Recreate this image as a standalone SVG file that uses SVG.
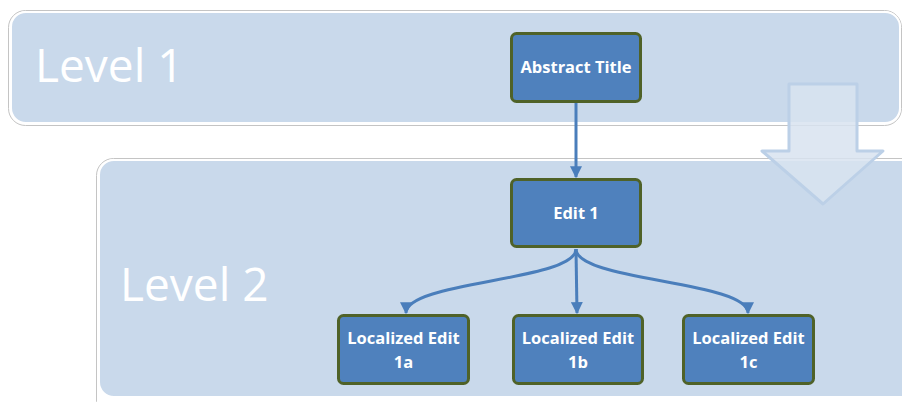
<svg xmlns="http://www.w3.org/2000/svg" width="902" height="402" viewBox="0 0 902 402">
<defs>
<style>
.band-out{fill:none;stroke:#c4c4c4;stroke-width:1}
.band{fill:#c9d9eb;stroke:#ffffff;stroke-width:2}
.lvl{font-family:"Open Sans","Liberation Sans",sans-serif;font-weight:normal;font-size:46px;fill:#ffffff}
.box{fill:#4f81bd;stroke:#4f6228;stroke-width:3}
.lbl{font-family:"Open Sans","Liberation Sans",sans-serif;font-weight:bold;font-size:16.5px;fill:#ffffff;text-anchor:middle}
.conn{fill:none;stroke:#4a7ebb;stroke-width:3}
</style>
<marker id="ah" viewBox="0 0 10 10" refX="9" refY="5" markerWidth="4" markerHeight="4" markerUnits="strokeWidth" orient="auto">
<path d="M0,0 L10,5 L0,10 z" fill="#4a7ebb"/>
</marker>
</defs>
<rect width="902" height="402" fill="#ffffff"/>
<g id="level1">
<rect class="band-out" x="8.5" y="10.5" width="893" height="115" rx="17"/>
<rect class="band" x="11" y="12" width="889" height="111" rx="15"/>
<text class="lvl" x="35" y="82">Level 1</text>
</g>
<g id="level2">
<rect class="band-out" x="96.5" y="158.5" width="830" height="260" rx="17"/>
<rect class="band" x="99" y="160" width="830" height="237" rx="15"/>
<text class="lvl" x="120" y="301">Level 2</text>
</g>
<g id="big-arrow">
<path d="M789,84 L857,84 L857,151 L883,151 L823,204 L762,151 L789,151 Z" fill="#d8e3f0" fill-opacity="0.85" stroke="#bcd0e7" stroke-width="3" stroke-linejoin="round"/>
</g>
<g id="connectors">
<path class="conn" d="M576,103 L576,177" marker-end="url(#ah)"/>
<path class="conn" d="M576,249 C576,281 406,281 406,313" marker-end="url(#ah)"/>
<path class="conn" d="M576,249 L577,313" marker-end="url(#ah)"/>
<path class="conn" d="M576,249 C576,281 748,281 748,313" marker-end="url(#ah)"/>
</g>
<g id="abstract-title">
<rect class="box" x="511.5" y="33.5" width="129" height="68" rx="5"/>
<text class="lbl" x="576" y="73">Abstract Title</text>
</g>
<g id="edit-1">
<rect class="box" x="511.5" y="179.5" width="129" height="67" rx="5"/>
<text class="lbl" x="576" y="219">Edit 1</text>
</g>
<g id="edit-1a">
<rect class="box" x="338.5" y="315.5" width="130" height="68" rx="5"/>
<text class="lbl" x="403.5" y="344">Localized Edit</text>
<text class="lbl" x="403.5" y="368">1a</text>
</g>
<g id="edit-1b">
<rect class="box" x="513.5" y="315.5" width="129" height="68" rx="5"/>
<text class="lbl" x="578" y="344">Localized Edit</text>
<text class="lbl" x="578" y="368">1b</text>
</g>
<g id="edit-1c">
<rect class="box" x="683.5" y="315.5" width="130" height="68" rx="5"/>
<text class="lbl" x="748.5" y="344">Localized Edit</text>
<text class="lbl" x="748.5" y="368">1c</text>
</g>
</svg>
